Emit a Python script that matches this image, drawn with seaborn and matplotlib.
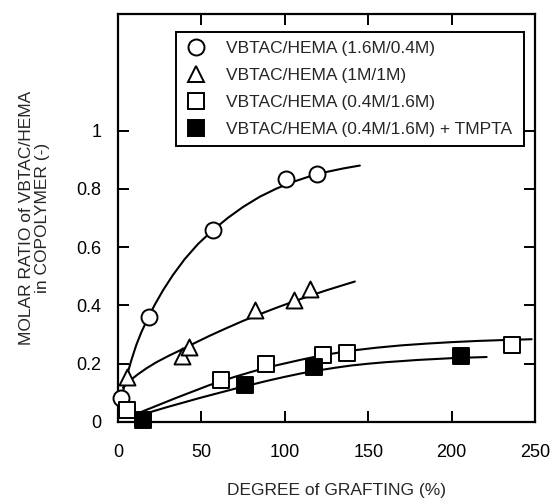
import numpy as np
import pandas as pd
import matplotlib
matplotlib.use("Agg")
import matplotlib.pyplot as plt
import seaborn as sns
from matplotlib.lines import Line2D

# ---- measured points ----
circ_x = [1.5, 18.8, 56.7, 101.0, 119.5]
circ_y = [0.082, 0.360, 0.659, 0.834, 0.852]
tri_x = [5.5, 38.4, 42.4, 82.4, 105.6, 115.1]
tri_y = [0.154, 0.225, 0.257, 0.385, 0.417, 0.457]
sq_x = [5.5, 62.0, 88.7, 122.7, 137.2, 236.5]
sq_y = [0.040, 0.143, 0.200, 0.229, 0.238, 0.263]
fsq_x = [15.2, 76.1, 117.4, 205.7]
fsq_y = [0.008, 0.126, 0.189, 0.225]

# ---- fitted curves ----
fit1_x = [1, 2, 3, 4, 6, 8, 11, 14, 18, 22, 27, 33, 40, 48, 57, 66, 75, 85, 95, 105, 115, 125, 135, 145]
fit1_y = [0.05, 0.078, 0.104, 0.128, 0.172, 0.212, 0.265, 0.308, 0.357, 0.402, 0.452, 0.505,
          0.559, 0.611, 0.659, 0.701, 0.738, 0.773, 0.801, 0.824, 0.843, 0.858, 0.870, 0.880]
fit2_x = [3, 5, 8, 12, 17, 23, 30, 38, 46, 55, 65, 75, 85, 95, 105, 115, 125, 134, 142]
fit2_y = [0.118, 0.13, 0.146, 0.164, 0.184, 0.205, 0.226, 0.248, 0.271, 0.296, 0.322, 0.347,
          0.370, 0.392, 0.413, 0.433, 0.452, 0.468, 0.482]
fit3_x = [8, 15, 25, 35, 45, 55, 62, 70, 80, 90, 100, 110, 120, 130, 140, 155, 170, 185, 200, 215, 230, 248]
fit3_y = [0.02, 0.037, 0.06, 0.083, 0.105, 0.127, 0.14, 0.155, 0.172, 0.188, 0.201, 0.214, 0.226,
          0.236, 0.245, 0.255, 0.263, 0.269, 0.274, 0.278, 0.281, 0.284]
fit4_x = [10, 20, 30, 40, 50, 60, 70, 80, 90, 100, 110, 120, 130, 140, 150, 160, 170, 180, 190, 200, 210, 221]
fit4_y = [0.018, 0.035, 0.052, 0.068, 0.084, 0.099, 0.114, 0.128, 0.142, 0.155, 0.167, 0.177,
          0.186, 0.194, 0.2, 0.205, 0.209, 0.213, 0.216, 0.219, 0.221, 0.223]

labels = ["VBTAC/HEMA (1.6M/0.4M)", "VBTAC/HEMA (1M/1M)",
          "VBTAC/HEMA (0.4M/1.6M)", "VBTAC/HEMA (0.4M/1.6M) + TMPTA"]
xticks = [0, 50, 100, 150, 200, 250]
yticks = [0, 0.2, 0.4, 0.6, 0.8, 1.0]
yticklabels = ["0", "0.2", "0.4", "0.6", "0.8", "1"]

sns.set_theme(style="ticks")
plt.rcParams["font.family"] = ["Liberation Sans", "DejaVu Sans"]

fig = plt.figure(figsize=(5.52, 5.0), dpi=100)
ax = fig.add_axes([118 / 552, 78 / 500, 417 / 552, 408 / 500])

for fx, fy in [(fit1_x, fit1_y), (fit2_x, fit2_y), (fit3_x, fit3_y), (fit4_x, fit4_y)]:
    sns.lineplot(x=fx, y=fy, ax=ax, color="black", lw=1.5, sort=False, estimator=None, zorder=2)

ms = 11.5
common = dict(ax=ax, s=ms ** 2, edgecolor="black", linewidth=1.4, zorder=3, clip_on=False, legend=False)
sns.scatterplot(x=circ_x, y=circ_y, marker="o", color="white", **common)
sns.scatterplot(x=tri_x, y=tri_y, marker="^", color="white", **common)
sns.scatterplot(x=sq_x, y=sq_y, marker="s", color="white", **common)
sns.scatterplot(x=fsq_x, y=fsq_y, marker="s", color="black", **common)

ax.set_xlim(0, 250)
ax.set_ylim(0, 1.4)
ax.set_xticks(xticks)
ax.set_xticklabels([str(t) for t in xticks])
ax.set_yticks(yticks)
ax.set_yticklabels(yticklabels)
ax.tick_params(direction="in", length=8, width=1.4, top=True, right=True,
               labelsize=13, colors="black")
ax.tick_params(axis="x", pad=16)
ax.tick_params(axis="y", pad=12)
for sp in ax.spines.values():
    sp.set_linewidth(1.6)
    sp.set_color("black")

ax.set_xlabel("DEGREE of GRAFTING (%)", fontsize=12.5, va="center")
ax.xaxis.set_label_coords(0.525, -0.167)
ax.set_ylabel("MOLAR RATIO of VBTAC/HEMA\nin COPOLYMER (-)", fontsize=12.5,
              va="center", linespacing=1.05)
ax.yaxis.set_label_coords(-0.2, 0.5)

handles = [
    Line2D([], [], ls="none", marker="o", ms=ms, mfc="white", mec="black", mew=1.4),
    Line2D([], [], ls="none", marker="^", ms=ms, mfc="white", mec="black", mew=1.4),
    Line2D([], [], ls="none", marker="s", ms=ms, mfc="white", mec="black", mew=1.4),
    Line2D([], [], ls="none", marker="s", ms=ms, mfc="black", mec="black", mew=1.4),
]
leg = ax.legend(handles, labels, loc="upper left", bbox_to_anchor=(0.138, 0.0, 0.835, 0.955),
                mode="expand", fontsize=12.5, frameon=True, fancybox=False, framealpha=1,
                borderpad=0.5, handlelength=1.4, handletextpad=1.0, labelspacing=0.68,
                borderaxespad=0)
leg.get_frame().set_edgecolor("black")
leg.get_frame().set_linewidth(1.4)

fig.savefig("out.png", dpi=100)
